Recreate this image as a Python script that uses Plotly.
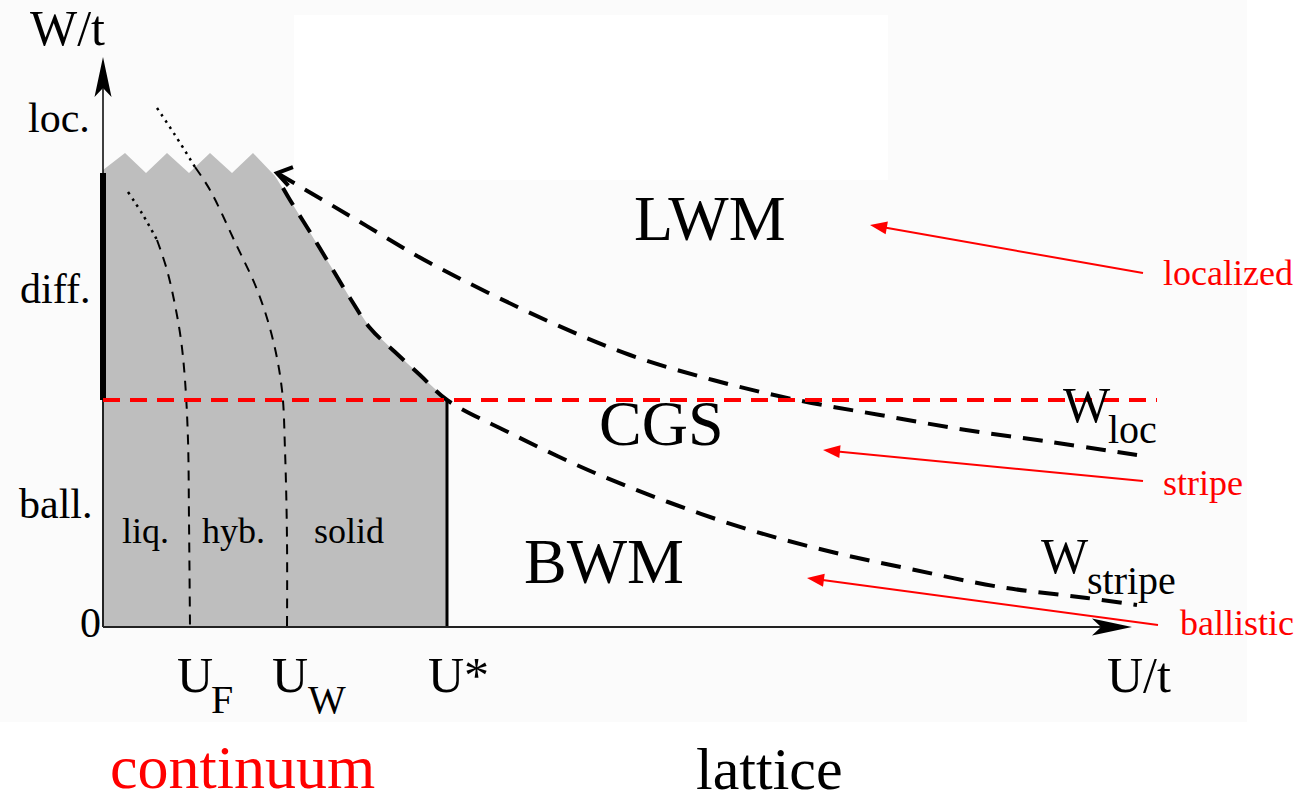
import numpy as np
import plotly.graph_objects as go

# ---------------- data (schematic units: U/t horizontally, W/t vertically) ----------------
# grey (continuum) region: y-axis, zig-zag top, phase boundary, U* line
gray_u = [0, 0, 0.22, 0.43, 0.64, 0.86, 1.07, 1.29, 1.50, 1.72, 1.87, 2.07, 2.27, 2.47, 2.67, 2.92, 3.17, 3.44, 3.44]
gray_w = [0, 4.57, 4.74, 4.54, 4.74, 4.54, 4.74, 4.54, 4.74, 4.51, 4.27, 3.95, 3.62, 3.29, 2.99, 2.75, 2.52, 2.27, 0]

# W_stripe boundary (continues the grey-region edge)
stripe_u = [1.80, 1.87, 2.07, 2.27, 2.47, 2.67, 2.92, 3.17, 3.44, 4.05, 4.85, 5.65, 6.47, 7.29, 8.12, 8.97, 9.84, 10.34]
stripe_w = [4.39, 4.27, 3.95, 3.62, 3.29, 2.99, 2.75, 2.52, 2.27, 1.95, 1.57, 1.25, 0.97, 0.75, 0.57, 0.40, 0.29, 0.22]

# W_loc boundary
loc_u = [1.74, 2.47, 3.27, 4.47, 5.27, 6.10, 6.94, 7.77, 8.63, 9.48, 10.34]
loc_w = [4.54, 4.11, 3.64, 3.05, 2.72, 2.47, 2.27, 2.12, 1.97, 1.85, 1.72]

# U_F crossover (dotted top part, dashed lower part)
uf_dot_u = [0.25, 0.40, 0.54]
uf_dot_w = [4.35, 4.12, 3.87]
uf_dash_u = [0.54, 0.64, 0.72, 0.78, 0.82, 0.85, 0.86, 0.87]
uf_dash_w = [3.87, 3.57, 3.22, 2.87, 2.47, 1.87, 1.07, 0.0]

# U_W crossover
uw_dot_u = [0.54, 0.72, 0.92]
uw_dot_w = [5.19, 4.92, 4.60]
uw_dash_u = [0.92, 1.07, 1.32, 1.55, 1.70, 1.79, 1.82, 1.84, 1.84]
uw_dash_w = [4.60, 4.37, 3.85, 3.35, 2.87, 2.37, 1.77, 0.87, 0.0]

# special values
U_STAR = 3.44
W_BALL = 2.27      # ballistic / diffusive threshold (red dashed)
W_DIFF_TOP = 4.54  # top of thick diffusive segment
U_RED_END = 10.54
X_AXIS_END = 10.29
Y_AXIS_END = 5.70

# red annotation arrows: (tail_u, tail_w, tip_u, tip_w)
red_arrows = {
    "localized": (10.40, 3.54, 7.67, 4.02),
    "stripe": (10.40, 1.46, 7.20, 1.77),
    "ballistic": (10.55, 0.02, 7.04, 0.49),
}

# ---------------- layout helpers ----------------
W_PX, H_PX = 1313, 804
U0_PX, W0_PX, PPU = 103, 627, 100.0
XR = [-U0_PX / PPU, (W_PX - U0_PX) / PPU]
YR = [-(H_PX - W0_PX) / PPU, W0_PX / PPU]
FONT = "Liberation Serif"


def pu(px):
    return (px - U0_PX) / PPU


def pw(py):
    return (W0_PX - py) / PPU


def head(tip_u, tip_w, from_u, from_w, length, half, notch=0.0):
    d = np.array([tip_u - from_u, tip_w - from_w], dtype=float)
    d /= np.linalg.norm(d)
    n = np.array([-d[1], d[0]])
    tip = np.array([tip_u, tip_w])
    base = tip - length * d
    pts = [tip, base + half * n, tip - (length - notch) * d, base - half * n, tip]
    return [p[0] for p in pts], [p[1] for p in pts]


fig = go.Figure()


def line(u, w, color="black", width=2, dash="solid", shape="linear"):
    fig.add_trace(go.Scatter(x=u, y=w, mode="lines", line=dict(color=color, width=width, dash=dash, shape=shape),
                             hoverinfo="skip", showlegend=False))


def poly(u, w, color):
    fig.add_trace(go.Scatter(x=u, y=w, mode="lines", fill="toself", fillcolor=color,
                             line=dict(width=0, color=color), hoverinfo="skip", showlegend=False))


# grey region
poly(gray_u + [gray_u[0]], gray_w + [gray_w[0]], "#bebebe")

# crossover lines inside the grey region
line(uf_dot_u, uf_dot_w, width=2.5, dash="2.5px,5px", shape="spline")
line(uf_dash_u, uf_dash_w, width=2, dash="10px,8px", shape="spline")
line(uw_dot_u, uw_dot_w, width=2.5, dash="2.5px,5px", shape="spline")
line(uw_dash_u, uw_dash_w, width=2, dash="10px,8px", shape="spline")

# U* vertical line
line([U_STAR, U_STAR], [0, W_BALL], width=3)

# axes
line([0, X_AXIS_END - 0.3], [0, 0], color="#222222", width=2)
hx, hy = head(X_AXIS_END, 0, 0, 0, 0.40, 0.085, 0.09)
poly(hx, hy, "black")
line([0, 0], [0, W_BALL], color="#222222", width=2)
line([0, 0], [W_DIFF_TOP, Y_AXIS_END - 0.3], color="black", width=1.5)
line([0, 0], [W_BALL, W_DIFF_TOP], color="black", width=6)
hx, hy = head(0, Y_AXIS_END, 0, 0, 0.40, 0.085, 0.09)
poly(hx, hy, "black")

# phase boundaries (thick dashed)
line(stripe_u, stripe_w, width=4, dash="20px,12px", shape="spline")
line(loc_u, loc_w, width=4, dash="20px,12px", shape="spline")

# open chevron at the start of W_loc
ang = np.deg2rad(14)
back = np.array([np.cos(ang), -np.sin(ang)])  # pointing back (right, slightly down)
half = np.deg2rad(34)
arm = 0.17
rot = lambda v, a: np.array([v[0] * np.cos(a) - v[1] * np.sin(a), v[0] * np.sin(a) + v[1] * np.cos(a)])
a1 = rot(back, half) * arm
a2 = rot(back, -half) * arm
line([loc_u[0] + a1[0], loc_u[0], loc_u[0] + a2[0]], [loc_w[0] + a1[1], loc_w[0], loc_w[0] + a2[1]], width=4)

# red dashed threshold line
line([0, U_RED_END], [W_BALL, W_BALL], color="#ff0000", width=4, dash="17px,10px")

# red arrows
for k, (tu, tw, hu, hw) in red_arrows.items():
    d = np.array([hu - tu, hw - tw])
    d /= np.linalg.norm(d)
    line([tu, hu - 0.12 * d[0]], [tw, hw - 0.12 * d[1]], color="#ff0000", width=2)
    ax_, ay_ = head(hu, hw, tu, tw, 0.17, 0.065)
    poly(ax_, ay_, "#ff0000")


# ---------------- text ----------------
def lab(text, x_px, base_px, size, color="black", xanchor="center"):
    mid = base_px - 0.3375 * size
    return dict(text=text, x=pu(x_px), y=pw(mid), xref="x", yref="y", showarrow=False,
                xanchor=xanchor, yanchor="middle", borderpad=0, borderwidth=0,
                font=dict(family=FONT, size=size, color=color))


annotations = [
    lab("W/t", 67, 45, 50),
    lab("loc.", 90, 132, 42, xanchor="right"),
    lab("diff.", 90, 303, 42, xanchor="right"),
    lab("ball.", 92, 518, 42, xanchor="right"),
    lab("0", 101, 637, 42, xanchor="right"),
    lab("liq.", 145, 543, 36),
    lab("hyb.", 233, 543, 36),
    lab("solid", 349, 543, 36),
    lab("LWM", 710, 240, 64),
    lab("CGS", 661, 445, 64),
    lab("BWM", 604, 583, 64),
    lab("U", 195, 692, 50),
    lab("F", 222, 713, 40),
    lab("U", 290, 692, 50),
    lab("W", 327, 713, 40),
    lab("U*", 458, 692, 50),
    lab("U/t", 1139, 692, 50),
    lab("W", 1087, 422, 50),
    lab("loc", 1132, 443, 40),
    lab("W", 1065, 573, 50),
    lab("stripe", 1131, 594, 40),
    lab("localized", 1228, 285, 36, color="#ff0000"),
    lab("stripe", 1203, 495, 36, color="#ff0000"),
    lab("ballistic", 1237, 635, 36, color="#ff0000"),
    lab("continuum", 242, 788, 62, color="#ff0000"),
    lab("lattice", 769, 789, 60),
]

shapes = [
    dict(type="rect", xref="x", yref="y", x0=XR[0], x1=pu(1247), y0=pw(722), y1=YR[1],
         fillcolor="#fbfbfb", line=dict(width=0), layer="below"),
    dict(type="rect", xref="x", yref="y", x0=pu(294), x1=pu(888), y0=pw(180), y1=pw(15),
         fillcolor="#ffffff", line=dict(width=0), layer="below"),
]

fig.update_layout(
    width=W_PX, height=H_PX, autosize=False,
    margin=dict(l=0, r=0, t=0, b=0),
    paper_bgcolor="white", plot_bgcolor="white",
    xaxis=dict(range=XR, visible=False, fixedrange=True),
    yaxis=dict(range=YR, visible=False, fixedrange=True),
    annotations=annotations, shapes=shapes, showlegend=False,
)

fig.write_html("out.html", config={"displayModeBar": False})
